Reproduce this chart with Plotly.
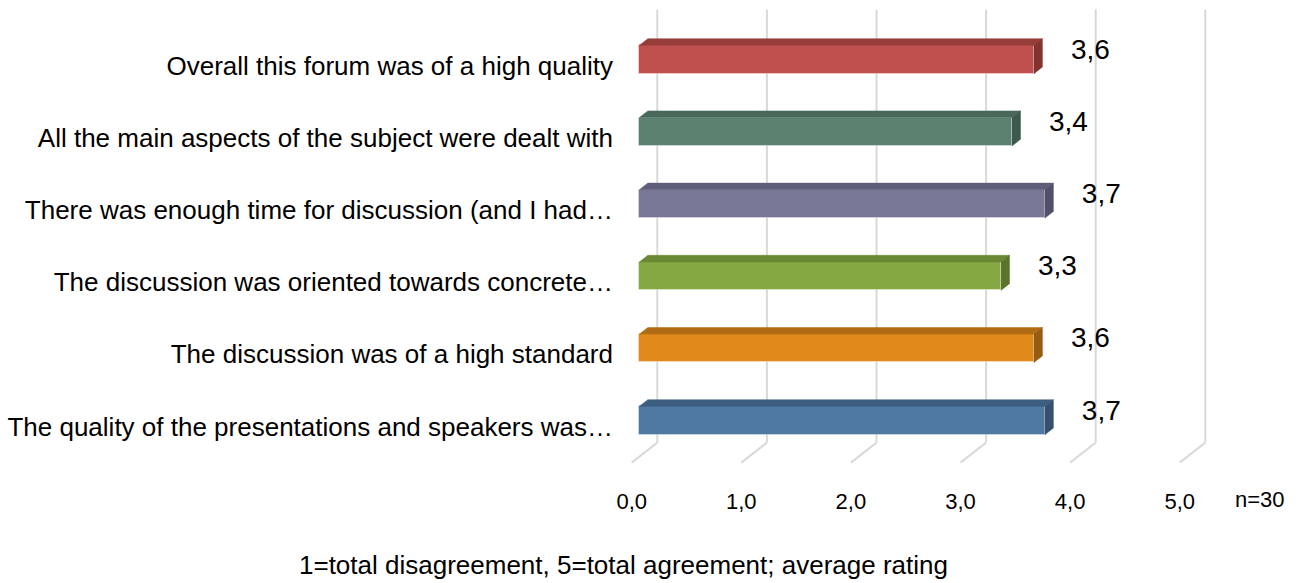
import plotly.graph_objects as go

# ---------------- data (top-to-bottom as shown) ----------------
categories = [
    "Overall this forum was of a high quality",
    "All the main aspects of the subject were dealt with",
    "There was enough time for discussion (and I had…",
    "The discussion was oriented towards concrete…",
    "The discussion was of a high standard",
    "The quality of the presentations and speakers was…",
]
values = [3.6, 3.4, 3.7, 3.3, 3.6, 3.7]
front_colors = ["#C0504D", "#5B8271", "#787896", "#86A843", "#E08A1B", "#4F79A1"]
top_colors = ["#963D3A", "#48695A", "#5E5E7A", "#6A8834", "#B06C14", "#3E5E80"]
side_colors = ["#83322F", "#3D584C", "#505068", "#5A742C", "#965C10", "#35516E"]
tick_values = [0, 1, 2, 3, 4, 5]
tick_labels = ["0,0", "1,0", "2,0", "3,0", "4,0", "5,0"]
axis_title = "1=total disagreement, 5=total agreement; average rating"
n_note = "n=30"

# plot bottom-to-top
cats = categories[::-1]
vals = values[::-1]
fc = front_colors[::-1]
tc = top_colors[::-1]
sc = side_colors[::-1]
pos = list(range(len(cats)))

# 3D projection constants (data units per unit depth)
DXU = 0.2336   # horizontal shift of full depth
DYU = 0.277    # vertical shift of full depth
Z0, Z1 = 0.30, 0.63   # bar front / back depth
BAR_W = 0.393
FONT = "Liberation Sans, Arial, sans-serif"

fig = go.Figure()

# front faces (library bars)
fig.add_trace(go.Bar(
    x=vals, y=[p + Z0 * DYU for p in pos], base=Z0 * DXU,
    orientation="h", width=BAR_W,
    marker=dict(color=fc, line=dict(color="rgba(255,255,255,0.35)", width=1)),
    hoverinfo="skip", showlegend=False,
))

# top and side faces
for p, v, ctop, cside in zip(pos, vals, tc, sc):
    h = BAR_W / 2
    x0f, x1f = Z0 * DXU, v + Z0 * DXU
    x0b, x1b = Z1 * DXU, v + Z1 * DXU
    yt_f, yb_f = p + h + Z0 * DYU, p - h + Z0 * DYU
    yt_b, yb_b = p + h + Z1 * DYU, p - h + Z1 * DYU
    fig.add_trace(go.Scatter(
        x=[x0f, x0b, x1b, x1f, x0f], y=[yt_f, yt_b, yt_b, yt_f, yt_f],
        mode="lines", fill="toself", fillcolor=ctop,
        line=dict(color=ctop, width=0.5), hoverinfo="skip", showlegend=False))
    fig.add_trace(go.Scatter(
        x=[x1f, x1b, x1b, x1f, x1f], y=[yt_f, yt_b, yb_b, yb_f, yt_f],
        mode="lines", fill="toself", fillcolor=cside,
        line=dict(color=cside, width=0.5), hoverinfo="skip", showlegend=False))

# value labels
fig.add_trace(go.Scatter(
    x=[v + Z1 * DXU + 0.26 for v in vals],
    y=[p + Z0 * DYU + 0.11 for p in pos],
    mode="text", text=[f"{v:.1f}".replace(".", ",") for v in vals],
    textposition="middle right",
    textfont=dict(family=FONT, size=28, color="#000000"),
    hoverinfo="skip", showlegend=False, cliponaxis=False,
))

# 3D gridlines (floor diagonal + back wall vertical)
y_lo, y_hi = -0.5, len(cats) - 0.5
shapes = []
for t in tick_values:
    shapes.append(dict(type="line", xref="x", yref="y", layer="below",
                       x0=t, y0=y_lo, x1=t + DXU, y1=y_lo + DYU,
                       line=dict(color="#D9D9D9", width=2)))
    shapes.append(dict(type="line", xref="x", yref="y", layer="below",
                       x0=t + DXU, y0=y_lo + DYU, x1=t + DXU, y1=y_hi + DYU,
                       line=dict(color="#D9D9D9", width=2)))

fig.update_layout(
    width=1304, height=583,
    margin=dict(l=620, r=84, t=5, b=97),
    paper_bgcolor="white", plot_bgcolor="white",
    shapes=shapes,
    bargap=0,
    hovermode=False,
    xaxis=dict(range=[-0.10675, 5.3677], tickvals=tick_values, ticktext=tick_labels,
               showgrid=False, zeroline=False, showline=False, ticks="",
               automargin=False,
               tickfont=dict(family=FONT, size=22, color="#000000")),
    yaxis=dict(range=[-0.8241, 5.838], tickvals=pos, ticktext=cats,
               showgrid=False, zeroline=False, showline=False, ticks="",
               automargin=False, ticklabelstandoff=6,
               tickfont=dict(family=FONT, size=26, color="#000000")),
    annotations=[
        dict(text=n_note, xref="paper", yref="paper", x=1.066, y=-0.029,
             showarrow=False, xanchor="center", yanchor="middle",
             font=dict(family=FONT, size=22, color="#000000")),
        dict(text=axis_title, xref="paper", yref="paper", x=0.005, y=-0.164,
             showarrow=False, xanchor="center", yanchor="middle",
             font=dict(family=FONT, size=26, color="#000000")),
    ],
)

fig.write_html("out.html", config={"displayModeBar": False},
               post_script="document.body.style.margin='0px';")
